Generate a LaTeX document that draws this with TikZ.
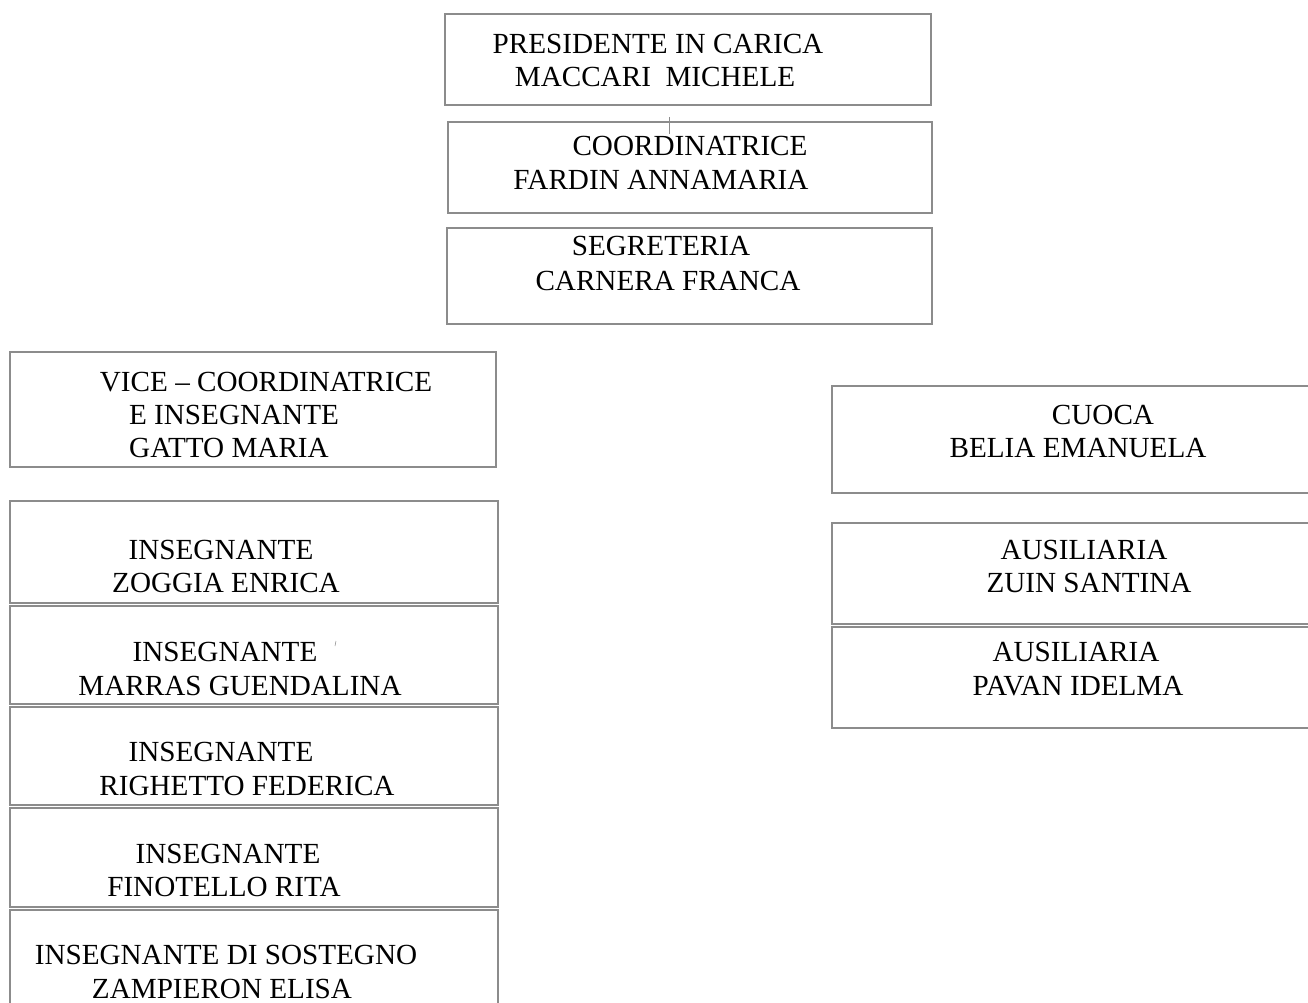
\documentclass[tikz,border=0pt]{standalone}
\usepackage{fontspec}
\setmainfont{Liberation Serif}
\usetikzlibrary{positioning}

\begin{document}
\begin{tikzpicture}[x=0.02cm, y=-0.02cm,
box/.style={draw=black!45, line width=0.6pt},
txt/.style={inner sep=0pt, text height=0.66em, text depth=0pt, yshift=-0.1cm, font=\fontsize{16.6}{19}\selectfont}]

\useasboundingbox (0,0) rectangle (1308,1003);
\clip (0,0) rectangle (1308,1003);

% top column
\draw[box] (445,14) rectangle (931,105);
\draw[box] (448,122) rectangle (932,213);
\draw[box] (447,228) rectangle (932,324);
\coordinate (stubtop) at (669,117);
\coordinate (stubbot) at (669,134);
\draw[box, line width=0.4pt] (stubtop) -- (stubbot);

\node[txt] (pres) at (658,43) {PRESIDENTE IN CARICA};
\node[txt] (presname) at (655,76) {MACCARI\ \ MICHELE};
\node[txt] (coord) at (690,145) {COORDINATRICE};
\node[txt] (coordname) at (661,179) {FARDIN ANNAMARIA};
\node[txt] (segr) at (661,245) {SEGRETERIA};
\node[txt] (segrname) at (668,280) {CARNERA FRANCA};

% left column
\draw[box] (10,352) rectangle (496,467);
\node[txt] (vice) at (266,381) {VICE -- COORDINATRICE};
\node[txt] (vice2) at (234,414) {E INSEGNANTE};
\node[txt] (vicename) at (229,447) {GATTO MARIA};

\draw[box] (10,501) rectangle (498,603);
\draw[box] (10,606) rectangle (498,704);
\draw[box] (10,707) rectangle (498,805);
\draw[box] (10,808) rectangle (498,907);
\draw[box] (10,910) rectangle (498,1020);
\draw[box, line width=0.3pt] (336,641) -- (335,646);

\node[txt] (ins1) at (221,549) {INSEGNANTE};
\node[txt] (ins1name) at (226,582) {ZOGGIA ENRICA};
\node[txt] (ins2) at (225,651) {INSEGNANTE};
\node[txt] (ins2name) at (240,685) {MARRAS GUENDALINA};
\node[txt] (ins3) at (221,751) {INSEGNANTE};
\node[txt] (ins3name) at (247,785) {RIGHETTO FEDERICA};
\node[txt] (ins4) at (228,853) {INSEGNANTE};
\node[txt] (ins4name) at (224,886) {FINOTELLO RITA};
\node[txt] (sost) at (226,954) {INSEGNANTE DI SOSTEGNO};
\node[txt] (sostname) at (222,988) {ZAMPIERON ELISA};

% right column
\draw[box] (832,386) rectangle (1320,493);
\draw[box] (832,523) rectangle (1320,624);
\draw[box] (832,627) rectangle (1320,728);

\node[txt] (cuoca) at (1103,414) {CUOCA};
\node[txt] (cuocaname) at (1078,447) {BELIA EMANUELA};
\node[txt] (aus1) at (1084,549) {AUSILIARIA};
\node[txt] (aus1name) at (1089,582) {ZUIN SANTINA};
\node[txt] (aus2) at (1076,651) {AUSILIARIA};
\node[txt] (aus2name) at (1078,685) {PAVAN IDELMA};
\end{tikzpicture}
\end{document}
